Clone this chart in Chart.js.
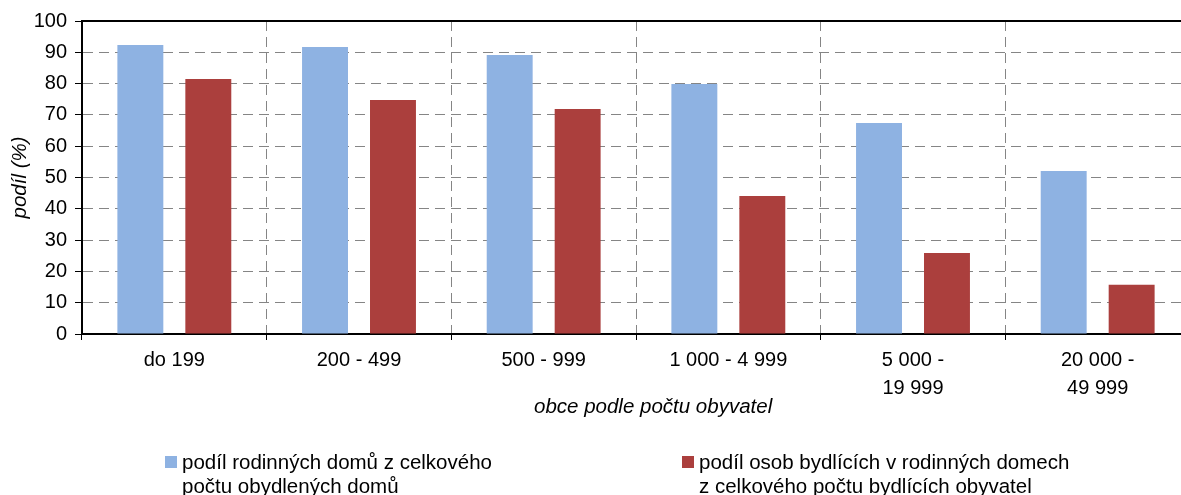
<!DOCTYPE html>
<html>
<head>
<meta charset="utf-8">
<script src="https://cdn.jsdelivr.net/npm/chart.js@4/dist/chart.umd.min.js"></script>
<style>
  html, body { margin:0; padding:0; background:#fff; overflow:hidden; }
  #wrap { position:relative; width:1195px; height:495px; }
  #legend { position:absolute; left:0; top:0; width:100%; height:100%; pointer-events:none;
            font-family:"Liberation Sans", Arial, sans-serif; font-size:20.5px; line-height:24px; color:#000; }
  .lg-item { position:absolute; top:450px; }
  .lg-box { position:absolute; width:12px; height:12px; top:6px; }
  .lg-text { position:absolute; white-space:nowrap; }
</style>
</head>
<body>
<div id="wrap">
  <canvas id="chart" width="1195" height="495"></canvas>
  <div id="legend"></div>
</div>
<script>
// categories (municipality size) and the two series
const categories  = ['do 199', '200 - 499', '500 - 999', '1 000 - 4 999', ['5 000 -', '19 999'], ['20 000 -', '49 999']];
const housesShare = [92.3, 91.7, 89.1, 79.9, 67.4, 52.1];
const peopleShare = [81.5, 74.8, 71.9, 44.1, 25.9, 15.7];
const seriesLabels = [
  ['podíl rodinných domů z celkového', 'počtu obydlených domů'],
  ['podíl osob bydlících v rodinných domech', 'z celkového počtu bydlících obyvatel']
];
const yMin = 0, yMax = 100, yStep = 10;

const BLUE = '#8eb2e2', RED = '#ab3f3d';
const FONT = '"Liberation Sans", Arial, sans-serif';

// solid top edge of the plot frame
const frameTop = {
  id: 'frameTop',
  afterDatasetsDraw(chart) {
    const {ctx, chartArea:a} = chart;
    ctx.save();
    ctx.strokeStyle = '#000';
    ctx.lineWidth = 2;
    ctx.beginPath();
    ctx.moveTo(a.left - 1, a.top);
    ctx.lineTo(a.right, a.top);
    ctx.stroke();
    ctx.restore();
  }
};

const grid = { color:'#858585', lineWidth:1, tickColor:'#000', tickWidth:1 };

new Chart(document.getElementById('chart'), {
  type: 'bar',
  data: {
    labels: categories,
    datasets: [
      { label: seriesLabels[0].join(' '), data: housesShare, backgroundColor: BLUE,
        categoryPercentage: 0.736, barPercentage: 0.676 },
      { label: seriesLabels[1].join(' '), data: peopleShare, backgroundColor: RED,
        categoryPercentage: 0.736, barPercentage: 0.676 }
    ]
  },
  options: {
    responsive: false,
    animation: false,
    layout: { padding: { top: 21, left: 0, right: 5, bottom: 71 } },
    plugins: { legend: { display: false }, tooltip: { enabled: false } },
    scales: {
      x: {
        grid: Object.assign({}, grid, { tickLength: 6, offset: true }),
        border: { color:'#000', width:2, dash:[10,6] },
        ticks: { color:'#000', padding: 6, maxRotation: 0, autoSkip: false,
                 font: { family: FONT, size: 20, lineHeight: 1.4 } },
        // leading spaces push the title a little right, as in the original
        title: { display: true, text: '\u00a0\u00a0\u00a0\u00a0\u00a0\u00a0obce podle počtu obyvatel', color:'#000',
                 padding: { top: 0, bottom: 4 },
                 font: { family: FONT, size: 20.5, style: 'italic' } },
        afterFit: s => { s.height = 90; }
      },
      y: {
        min: yMin, max: yMax,
        grid: Object.assign({}, grid, { tickLength: 7 }),
        border: { color:'#000', width:2, dash:[10,6] },
        ticks: { stepSize: yStep, color:'#000', padding: 8,
                 font: { family: FONT, size: 20 } },
        title: { display: true, text: 'podíl (%)', color:'#000',
                 padding: { top: 8, bottom: 0 },
                 font: { family: FONT, size: 20.5, style: 'italic' } },
        afterFit: s => { s.width = 82; }
      }
    }
  },
  plugins: [frameTop]
});

// two-line legend under the chart
const lg = document.getElementById('legend');
const lgLeft = [165, 682];
[BLUE, RED].forEach((c, i) => {
  const item = document.createElement('div');
  item.className = 'lg-item';
  item.style.left = lgLeft[i] + 'px';
  item.innerHTML = `<div class="lg-box" style="background:${c};left:0"></div>
    <div class="lg-text" style="left:17px">${seriesLabels[i].join('<br>')}</div>`;
  lg.appendChild(item);
});
</script>
</body>
</html>
